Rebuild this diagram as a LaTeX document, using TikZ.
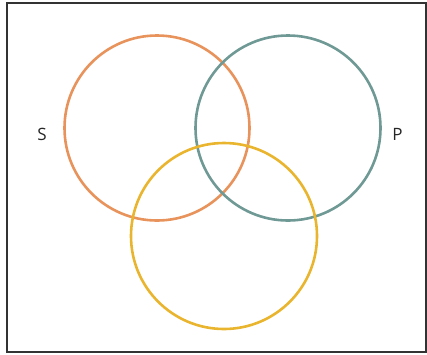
\documentclass[tikz,border=0pt]{standalone}
\usepackage{fontspec}
\setmainfont{Open Sans}
\usepackage{xcolor}
\usepackage{tikz}
\usetikzlibrary{positioning}

\definecolor{setorange}{HTML}{E8935C}
\definecolor{setteal}{HTML}{6F9994}
\definecolor{setyellow}{HTML}{EAB52E}

\begin{document}
\begin{tikzpicture}[x=1pt, y=-1pt,
    setring/.style={circle, draw, line width=2.6pt, minimum size=185pt, inner sep=0pt},
    setlabel/.style={font=\fontsize{17}{20}\selectfont, text=black!85}]
    \useasboundingbox (0,0) rectangle (427,354);
    	\draw[line width=1.8pt, black!80] (7,3) rectangle (426,352);

    	\node[setring, draw=setorange] (S) at (157,128) {};
    	\node[setring, draw=setteal] (P) at (288,128) {};
    	\node[setring, draw=setyellow, minimum size=186pt] (M) at (224,236) {};

    	\node[setlabel] (Slab) at (42,134) {S};
    	\node[setlabel] (Plab) at (397.5,134) {P};
    \end{tikzpicture}
\end{document}
